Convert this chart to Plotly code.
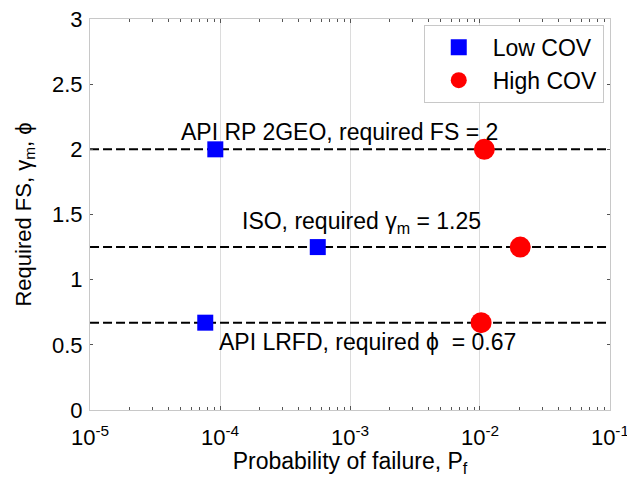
import math
import plotly.graph_objects as go

# Required safety levels for each design code
code_labels = ["API RP 2GEO, required FS = 2",
               "ISO, required γ<sub>m</sub> = 1.25",
               "API LRFD, required ϕ\u00a0 = 0.67"]
required_values = [2.0, 1.25, 0.67]

# Probability of failure at the required level
low_cov_pf = [9.2e-5, 5.65e-4, 7.7e-5]
high_cov_pf = [1.08e-2, 2.04e-2, 1.02e-2]

x_range = [1e-5, 1e-1]
x_tickvals = [1e-5, 1e-4, 1e-3, 1e-2, 1e-1]
x_ticktext = ["10<sup>-5</sup>", "10<sup>-4</sup>", "10<sup>-3</sup>",
              "10<sup>-2</sup>", "10<sup>-1</sup>"]
y_tickvals = [0, 0.5, 1, 1.5, 2, 2.5, 3]
y_ticktext = ["0", "0.5", "1", "1.5", "2", "2.5", "3"]

# Label anchor positions (x in probability, y in required FS)
label_x = [8.3e-4, 1.22e-3, 1.37e-3]
label_y = [2.135, 1.435, 0.52]

FONT = "Liberation Sans, Arial, sans-serif"

# minor tick positions 2..9 inside every decade
minor_vals = [m * 10.0 ** e for e in range(-5, -1) for m in range(2, 10)]

fig = go.Figure()

# Dashed reference line for each required value
for v in required_values:
    fig.add_trace(go.Scatter(
        x=x_range, y=[v, v], mode="lines",
        line=dict(color="black", width=2, dash="9px,4px"),
        showlegend=False, hoverinfo="skip"))

fig.add_trace(go.Scatter(
    x=low_cov_pf, y=required_values, mode="markers", name="Low COV",
    marker=dict(symbol="square", size=16, color="#0000ff",
                line=dict(width=0))))
fig.add_trace(go.Scatter(
    x=high_cov_pf, y=required_values, mode="markers", name="High COV",
    marker=dict(symbol="circle", size=21, color="#ff0000",
                line=dict(width=0))))

# annotations on a log axis take log10 coordinates
for txt, lx, ly in zip(code_labels, label_x, label_y):
    fig.add_annotation(x=math.log10(lx), y=ly, xref="x", yref="y", text=txt,
                       showarrow=False, xanchor="center", yanchor="middle",
                       font=dict(family=FONT, size=23, color="black"))

fig.update_xaxes(
    type="log", range=[-5.0002, -0.9998], automargin=False,
    tickvals=x_tickvals, ticktext=x_ticktext,
    ticks="inside", ticklen=4, tickcolor="#555555", tickwidth=1,
    ticklabelstandoff=8, ticklabeloverflow="allow",
    minor=dict(tickvals=minor_vals, ticks="inside", ticklen=3,
               tickcolor="#555555", tickwidth=1, showgrid=False),
    showgrid=True, gridcolor="#dcdcdc", gridwidth=1,
    showline=True, linecolor="#c8c8c8", linewidth=1, mirror="ticks",
    zeroline=False,
    tickfont=dict(family=FONT, size=22, color="black"),
    title=dict(text="Probability of failure, P<sub>f</sub>",
               font=dict(family=FONT, size=23, color="black"), standoff=2),
)
fig.update_yaxes(
    range=[0, 3], automargin=False,
    tickvals=y_tickvals, ticktext=y_ticktext,
    ticks="inside", ticklen=3, tickcolor="#555555", tickwidth=1,
    ticklabelstandoff=2,
    showgrid=False,
    showline=True, linecolor="#c8c8c8", linewidth=1, mirror="ticks",
    zeroline=False,
    tickfont=dict(family=FONT, size=22, color="black"),
    title=dict(text="Required FS, γ<sub>m</sub>, ϕ",
               font=dict(family=FONT, size=22, color="black"), standoff=14),
)

fig.update_layout(
    width=627, height=477,
    margin=dict(l=90, r=17, t=19, b=67),
    paper_bgcolor="white", plot_bgcolor="white",
    font=dict(family=FONT, color="black"),
    legend=dict(
        x=0.988, y=0.985, xanchor="right", yanchor="top",
        bgcolor="white", bordercolor="#c8c8c8", borderwidth=1,
        font=dict(family=FONT, size=23, color="black"),
        itemwidth=58, tracegroupgap=0,
    ),
)

fig.write_html("out.html")
